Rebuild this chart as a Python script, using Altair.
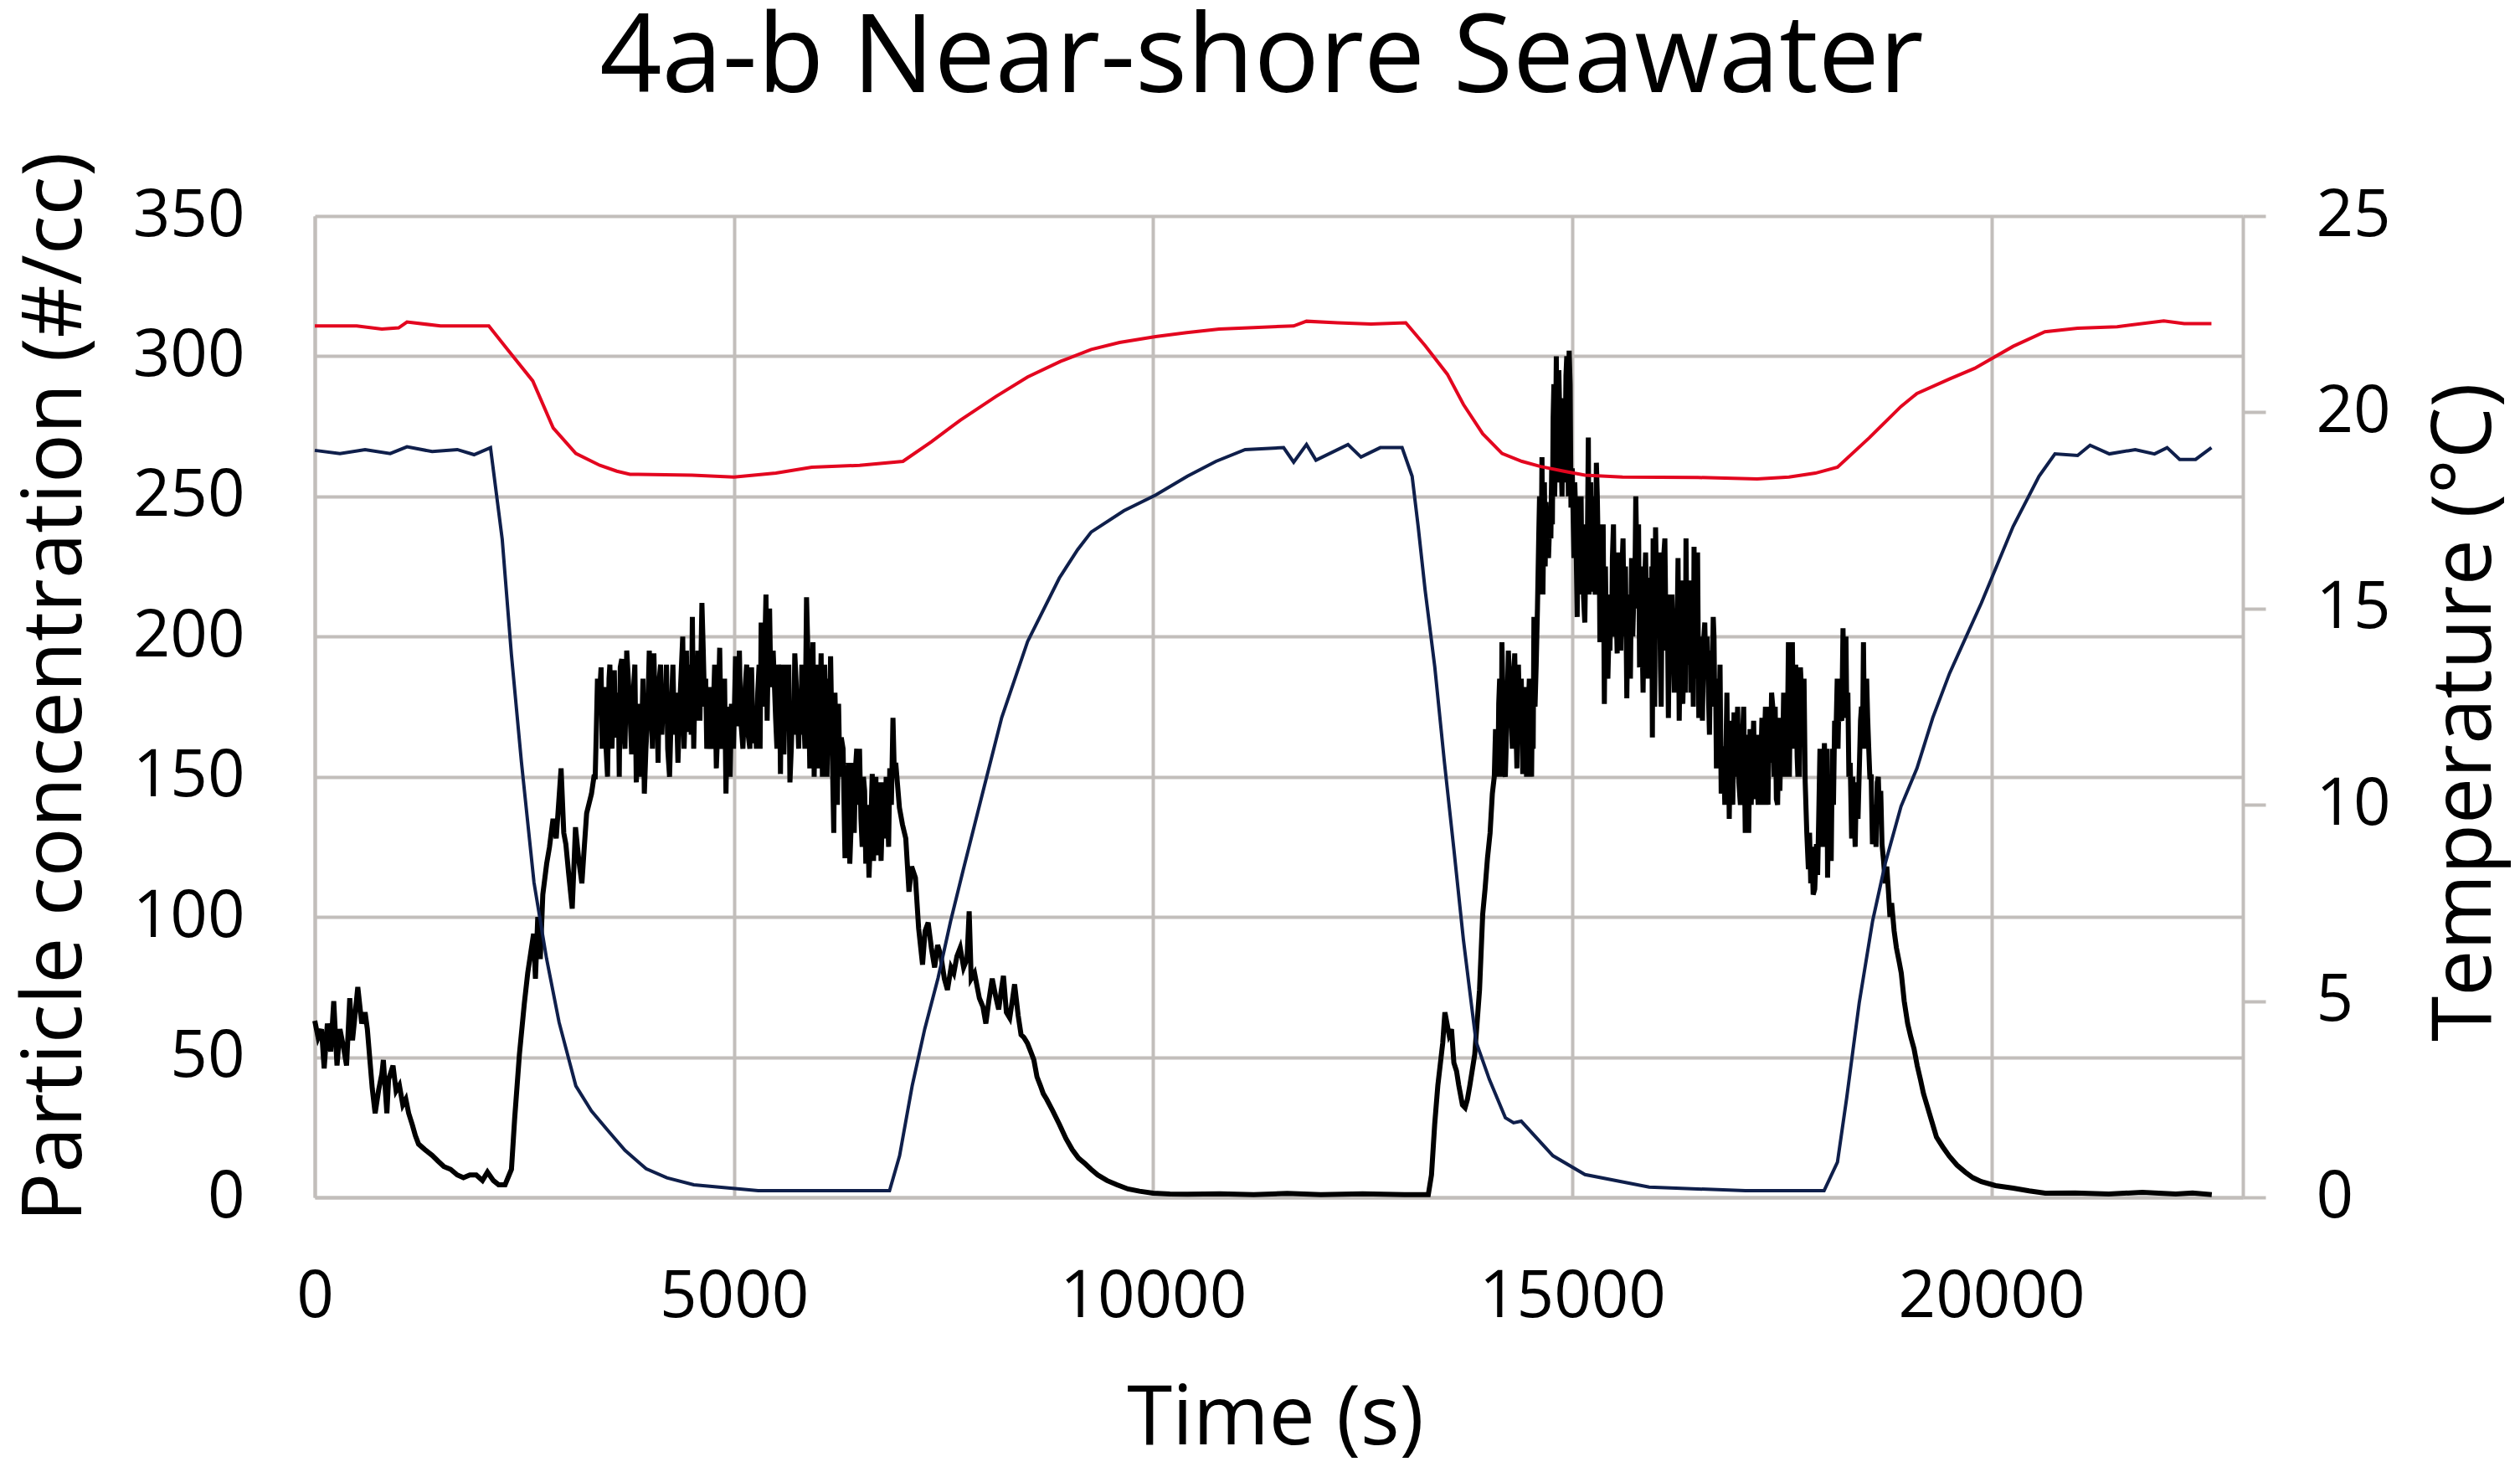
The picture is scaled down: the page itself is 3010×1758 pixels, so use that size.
import altair as alt
import pandas as pd

# ---------------- data ----------------
title_text = ["4a-b Near-shore Seawater"]

# Red temperature trace (time s, degC) - right axis
red_points = [
    (0, 22.2), (500, 22.2), (800, 22.12), (1000, 22.15), (1100, 22.3), (1500, 22.2),
    (2000, 22.2), (2076, 22.2), (2300, 21.6), (2600, 20.8), (2844, 19.6), (3114, 18.95),
    (3400, 18.65), (3603, 18.5), (3760, 18.42), (4500, 18.4), (5000, 18.35), (5500, 18.45),
    (5928, 18.6), (6500, 18.65), (7016, 18.75), (7355, 19.25), (7700, 19.8), (8124, 20.4),
    (8503, 20.9), (8900, 21.3), (9262, 21.6), (9600, 21.78), (10030, 21.93), (10400, 22.03),
    (10788, 22.12), (11200, 22.16), (11676, 22.2), (11830, 22.32), (12200, 22.28),
    (12600, 22.25), (13014, 22.28), (13245, 21.7), (13510, 20.97), (13702, 20.2),
    (13933, 19.45), (14163, 18.95), (14400, 18.75), (14622, 18.62), (14900, 18.5),
    (15152, 18.4), (15600, 18.35), (16500, 18.34), (17206, 18.3), (17585, 18.35),
    (17900, 18.45), (18164, 18.6), (18543, 19.35), (18922, 20.15), (19112, 20.48),
    (19500, 20.85), (19800, 21.12), (20259, 21.68), (20638, 22.05), (21028, 22.14),
    (21500, 22.18), (22056, 22.33), (22300, 22.26), (22625, 22.26),
]

# Navy temperature trace (time s, degC) - right axis
blue_points = [
    (0, 19.03), (300, 18.95), (600, 19.05), (900, 18.95), (1100, 19.12), (1400, 19.0),
    (1700, 19.05), (1900, 18.92), (2096, 19.1), (2236, 16.76), (2345, 13.84), (2465, 11.09),
    (2615, 8.02), (2765, 6.08), (2914, 4.46), (3114, 2.84), (3300, 2.2), (3493, 1.71),
    (3700, 1.2), (3952, 0.73), (4200, 0.5), (4521, 0.32), (5289, 0.17), (6000, 0.17),
    (6856, 0.17), (6976, 1.06), (7126, 2.84), (7276, 4.29), (7435, 5.59), (7585, 7.04),
    (7735, 8.34), (7964, 10.28), (8194, 12.22), (8503, 14.16), (8882, 15.78), (9100, 16.5),
    (9262, 16.95), (9651, 17.49), (10030, 17.89), (10409, 18.37), (10750, 18.75),
    (11098, 19.05), (11557, 19.1), (11677, 18.73), (11830, 19.18), (11943, 18.78),
    (12325, 19.18), (12480, 18.86), (12710, 19.1), (12970, 19.1), (13090, 18.37),
    (13162, 17.09), (13245, 15.47), (13360, 13.52), (13475, 11.09), (13590, 8.83),
    (13702, 6.56), (13852, 3.97), (14012, 3.0), (14202, 2.03), (14300, 1.9), (14392, 1.94),
    (14770, 1.06), (15152, 0.58), (15918, 0.26), (17066, 0.17), (18004, 0.17), (18164, 0.9),
    (18273, 2.52), (18423, 4.95), (18583, 7.04), (18733, 8.5), (18922, 9.96), (19112, 10.93),
    (19301, 12.22), (19501, 13.35), (19880, 15.14), (20259, 17.09), (20568, 18.37),
    (20758, 18.94), (21028, 18.9), (21177, 19.16), (21407, 18.94), (21716, 19.05),
    (21946, 18.94), (22096, 19.1), (22246, 18.8), (22436, 18.8), (22625, 19.1),
]

# Black particle concentration trace (time s, #/cc) - left axis: main readings
black_points = [
    (0, 63), (40, 57), (80, 60), (112, 46), (150, 62), (190, 52), (226, 70), (265, 47),
    (300, 60), (340, 54), (379, 47), (417, 71), (450, 56), (480, 65), (513, 75), (560, 62),
    (600, 66), (627, 60), (685, 39), (720, 30), (760, 38), (800, 44), (818, 49), (860, 30),
    (880, 42), (933, 47), (970, 38), (1009, 40), (1050, 33), (1086, 35), (1120, 30),
    (1162, 26), (1200, 22), (1238, 19), (1315, 17), (1400, 15), (1468, 13), (1540, 11),
    (1620, 10), (1700, 8), (1773, 7), (1850, 8), (1926, 8), (2000, 6), (2060, 9), (2130, 6),
    (2193, 4.5), (2270, 4.5), (2346, 10), (2384, 28), (2441, 51), (2499, 69), (2540, 80),
    (2575, 87), (2610, 94), (2632, 78), (2660, 100), (2690, 85), (2720, 108), (2766, 119),
    (2800, 125), (2842, 135), (2880, 128), (2938, 153), (2970, 130), (2995, 126),
    (3030, 115), (3071, 103), (3110, 132), (3150, 120), (3186, 112), (3215, 125),
    (3243, 137), (3301, 144), (3330, 150), (3358, 166), (3390, 175), (3415, 189),
    (3440, 170), (3475, 160), (3510, 185), (3530, 172), (3560, 175), (3587, 164),
    (3620, 180), (3644, 189), (3680, 170), (3721, 195), (3760, 173), (3800, 180),
    (3835, 148), (3870, 176), (3900, 165), (3931, 144), (3970, 171), (4010, 180),
    (4045, 194), (4080, 180), (4110, 185), (4140, 165), (4179, 171), (4210, 160),
    (4255, 176), (4290, 165), (4332, 155), (4389, 200), (4420, 175), (4446, 166),
    (4475, 190), (4504, 207), (4535, 182), (4570, 195), (4618, 212), (4650, 175),
    (4676, 160), (4710, 182), (4750, 170), (4790, 153), (4830, 196), (4870, 170),
    (4905, 144), (4940, 165), (4970, 176), (5019, 193), (5050, 180), (5080, 171),
    (5134, 182), (5170, 165), (5210, 189), (5250, 175), (5268, 160), (5300, 190),
    (5325, 205), (5382, 215), (5410, 195), (5440, 182), (5497, 171), (5530, 190),
    (5555, 151), (5580, 165), (5611, 180), (5640, 170), (5668, 148), (5700, 175),
    (5726, 194), (5760, 170), (5783, 178), (5810, 190), (5828, 176), (5866, 214),
    (5905, 153), (5943, 198), (5970, 175), (6000, 153), (6040, 194), (6070, 180),
    (6095, 167), (6125, 185), (6153, 193), (6191, 130), (6220, 160), (6248, 176),
    (6280, 164), (6325, 121), (6350, 140), (6382, 119), (6420, 155), (6450, 153),
    (6480, 140), (6515, 135), (6545, 150), (6573, 119), (6611, 114), (6650, 151),
    (6680, 140), (6706, 122), (6740, 148), (6770, 135), (6802, 128), (6830, 140),
    (6859, 153), (6897, 171), (6930, 155), (6974, 139), (7010, 133), (7050, 128),
    (7088, 109), (7120, 118), (7165, 114), (7203, 96), (7250, 83), (7280, 95), (7317, 98),
    (7355, 89), (7394, 82), (7430, 90), (7470, 86), (7510, 78), (7547, 74), (7590, 82),
    (7623, 80), (7660, 86), (7699, 89), (7740, 82), (7780, 85), (7806, 102), (7830, 78),
    (7870, 80), (7928, 71), (7970, 68), (8005, 62), (8040, 70), (8081, 78), (8120, 72),
    (8158, 67), (8190, 74), (8215, 79), (8250, 66), (8290, 64), (8320, 70), (8348, 76),
    (8390, 65), (8425, 58), (8460, 57), (8501, 55), (8540, 52), (8578, 49), (8615, 43),
    (8654, 40), (8690, 37), (8730, 35), (8800, 31), (8883, 26), (8960, 21), (9036, 17),
    (9110, 14), (9189, 12), (9260, 10), (9341, 8), (9450, 6), (9570, 4.5), (9700, 3),
    (9838, 2.2), (10000, 1.5), (10200, 1.2), (10411, 1.1), (10800, 1.3), (11200, 1.0),
    (11600, 1.4), (12000, 1.0), (12500, 1.3), (13000, 1.0), (13283, 1.0), (13321, 8),
    (13359, 26), (13397, 40), (13455, 55), (13481, 66), (13531, 58), (13560, 60),
    (13588, 48), (13620, 45), (13646, 40), (13690, 33), (13722, 32), (13750, 35),
    (13779, 40), (13837, 51), (13894, 74), (13932, 101), (13960, 110), (13989, 121),
    (14020, 130), (14047, 144), (14070, 150), (14085, 167), (14105, 160), (14123, 176),
    (14145, 165), (14161, 198), (14185, 153), (14220, 170), (14257, 182), (14285, 160),
    (14314, 194), (14340, 153), (14375, 165), (14410, 151), (14440, 182), (14470, 168),
    (14505, 160), (14525, 180), (14543, 207), (14570, 190), (14600, 235), (14620, 215),
    (14639, 264), (14660, 240), (14677, 225), (14700, 235), (14734, 244), (14755, 260),
    (14772, 278), (14790, 250), (14810, 300), (14830, 275), (14849, 282), (14870, 260),
    (14887, 271), (14905, 285), (14925, 293), (14945, 270), (14963, 302), (14985, 246),
    (15020, 228), (15040, 245), (15059, 207), (15080, 230), (15097, 239), (15115, 220),
    (15135, 214), (15165, 235), (15192, 271), (15210, 240), (15230, 216), (15260, 230),
    (15288, 262), (15310, 230), (15330, 198), (15355, 210), (15383, 176), (15410, 190),
    (15441, 205), (15460, 215), (15479, 228), (15505, 200), (15536, 194), (15565, 210),
    (15593, 225), (15620, 200), (15651, 178), (15680, 200), (15708, 228), (15735, 215),
    (15758, 250), (15780, 210), (15803, 189), (15830, 205), (15861, 216), (15890, 200),
    (15918, 221), (15940, 190), (15956, 164), (15975, 200), (15994, 239), (16020, 205),
    (16052, 189), (16070, 210), (16090, 228), (16120, 195), (16147, 171), (16175, 190),
    (16204, 198), (16230, 210), (16262, 228), (16290, 200), (16319, 176), (16340, 210),
    (16357, 235), (16385, 200), (16414, 180), (16435, 205), (16453, 232), (16480, 200),
    (16510, 171), (16540, 185), (16567, 198), (16595, 185), (16624, 180), (16650, 195),
    (16682, 207), (16700, 175), (16720, 153), (16750, 165), (16777, 144), (16805, 160),
    (16834, 160), (16855, 150), (16873, 135), (16900, 155), (16930, 173), (16960, 160),
    (16987, 148), (17025, 160), (17064, 130), (17090, 150), (17121, 167), (17150, 155),
    (17178, 142), (17206, 148), (17230, 165), (17263, 171), (17290, 160), (17321, 153),
    (17350, 175), (17378, 180), (17407, 150), (17435, 142), (17465, 171), (17490, 165),
    (17522, 180), (17550, 180), (17579, 198), (17600, 175), (17626, 198), (17650, 175),
    (17683, 157), (17700, 175), (17722, 189), (17750, 165), (17779, 148), (17817, 117),
    (17845, 112), (17874, 108), (17913, 126), (17940, 135), (17970, 139), (18008, 162),
    (18030, 140), (18046, 114), (18075, 135), (18103, 160), (18130, 170), (18161, 185),
    (18180, 175), (18199, 171), (18230, 203), (18255, 185), (18275, 171), (18300, 150),
    (18333, 128), (18360, 140), (18390, 148), (18428, 157), (18450, 175), (18474, 198),
    (18500, 180), (18524, 171), (18550, 150), (18581, 126), (18610, 140), (18638, 148),
    (18665, 135), (18695, 126), (18734, 112), (18770, 110), (18810, 105), (18840, 95),
    (18867, 89), (18900, 84), (18925, 80), (18960, 70), (19001, 62), (19040, 57),
    (19077, 53), (19115, 47), (19154, 42), (19190, 37), (19230, 33), (19290, 27),
    (19345, 21.5), (19420, 18), (19497, 14.7), (19590, 11.5), (19688, 9), (19780, 7),
    (19879, 5.6), (20050, 4.2), (20261, 3.3), (20450, 2.3), (20643, 1.5), (21000, 1.6),
    (21400, 1.2), (21800, 1.8), (22200, 1.2), (22400, 1.6), (22629, 1.0),
]

# Black trace: extra readings inside the dense noisy bands
black_fill = [
    (3345, 150), (3372, 185), (3428, 160), (3458, 182), (3492, 150), (3520, 190),
    (3545, 160), (3573, 188), (3603, 170), (3632, 150), (3662, 192), (3700, 160),
    (3740, 185), (3780, 158), (3818, 190), (3852, 165), (3885, 150), (3915, 185),
    (3950, 160), (3990, 195), (4028, 160), (4062, 172), (4095, 155), (4125, 190),
    (4160, 180), (4195, 190), (4232, 150), (4272, 190), (4310, 180), (4360, 180),
    (4405, 160), (4433, 195), (4460, 185), (4490, 165), (4520, 160), (4552, 170),
    (4594, 170), (4634, 195), (4663, 185), (4693, 165), (4730, 160), (4770, 190),
    (4810, 170), (4850, 160), (4888, 185), (4922, 175), (4955, 150), (4995, 160),
    (5035, 168), (5065, 195), (5107, 160), (5152, 190), (5190, 160), (5230, 162),
    (5284, 180), (5312, 160), (5353, 175), (5396, 170), (5425, 210), (5468, 195),
    (5513, 160), (5543, 185), (5568, 190), (5596, 158), (5625, 190), (5654, 190),
    (5684, 160), (5713, 165), (5743, 183), (5772, 160), (5797, 165), (5847, 160),
    (5886, 190), (5924, 165), (5957, 150), (5985, 190), (6020, 165), (6055, 150),
    (6082, 190), (6110, 150), (6139, 165), (6172, 160), (6205, 180), (6234, 140),
    (6264, 150), (6302, 160), (6338, 150), (6366, 155), (6401, 135), (6435, 130),
    (6465, 160), (6498, 160), (6530, 125), (6559, 145), (6592, 140), (6630, 130),
    (6665, 120), (6693, 150), (6723, 135), (6755, 120), (6786, 148), (6816, 150),
    (6845, 125), (6878, 140), (6914, 150),
    (14095, 150), (14114, 150), (14134, 185), (14153, 150), (14173, 180), (14202, 150),
    (14238, 195), (14271, 175), (14300, 185), (14327, 170), (14358, 190), (14392, 185),
    (14425, 160), (14455, 150), (14488, 185), (14515, 150), (14534, 160), (14556, 175),
    (14585, 210), (14610, 250), (14630, 230), (14650, 215), (14668, 255), (14688, 248),
    (14717, 228), (14745, 235), (14763, 240), (14781, 290), (14800, 265), (14820, 255),
    (14840, 295), (14860, 285), (14878, 250), (14896, 255), (14915, 265), (14935, 300),
    (14954, 250), (14975, 290), (15000, 260), (15030, 255), (15050, 225), (15070, 250),
    (15088, 215), (15106, 250), (15125, 240), (15150, 205), (15178, 225), (15201, 215),
    (15220, 255), (15245, 250), (15274, 215), (15299, 250), (15320, 240), (15342, 230),
    (15369, 240), (15396, 225), (15425, 185), (15450, 195), (15470, 200), (15492, 240),
    (15520, 215), (15550, 230), (15579, 195), (15606, 235), (15635, 225), (15665, 215),
    (15694, 185), (15722, 200), (15746, 215), (15769, 230), (15791, 240), (15816, 225),
    (15845, 180), (15875, 230), (15904, 185), (15929, 205), (15948, 225), (15965, 235),
    (15984, 175), (16007, 215), (16036, 230), (16061, 175), (16080, 195), (16105, 235),
    (16133, 215), (16160, 210), (16190, 215), (16217, 180), (16246, 190), (16276, 170),
    (16304, 220), (16330, 190), (16348, 180), (16370, 190), (16400, 220), (16424, 190),
    (16444, 175), (16466, 185), (16495, 230), (16525, 200), (16553, 170), (16581, 205),
    (16610, 200), (16637, 165), (16666, 175), (16691, 200), (16710, 185), (16735, 175),
    (16763, 190), (16791, 160), (16820, 140), (16845, 180), (16864, 160), (16887, 170),
    (16915, 140), (16945, 150), (16973, 175), (17006, 140), (17045, 175), (17077, 165),
    (17105, 130), (17135, 140), (17164, 170), (17192, 165), (17218, 140), (17246, 150),
    (17277, 140), (17305, 175), (17335, 140), (17364, 155), (17392, 175), (17421, 175),
    (17450, 140), (17477, 145), (17506, 150), (17536, 150), (17565, 160), (17590, 150),
    (17613, 170), (17638, 160), (17666, 190), (17692, 150), (17711, 150), (17736, 180),
    (17765, 185), (17798, 130), (17831, 130), (17860, 125), (17893, 110), (17927, 115),
    (17955, 160), (17989, 125), (18019, 150), (18038, 160), (18060, 145), (18089, 120),
    (18116, 140), (18146, 165), (18170, 160), (18190, 185), (18215, 170), (18243, 175),
    (18265, 200), (18288, 180), (18316, 155), (18346, 150), (18375, 125), (18409, 135),
    (18439, 170), (18462, 160), (18487, 160), (18512, 185), (18537, 160), (18566, 150),
    (18595, 130), (18624, 125), (18651, 150), (18680, 145), (18714, 120), (18752, 118),
    (18790, 100),
]

x_ticks = [0, 5000, 10000, 15000, 20000]
left_ticks = [0, 50, 100, 150, 200, 250, 300, 350]
right_ticks = [0, 5, 10, 15, 20, 25]

# ---------------- build tables ----------------
df_black = pd.DataFrame(black_points + black_fill, columns=["t", "v"]).sort_values("t")
df_red = pd.DataFrame(red_points, columns=["t", "v"]).assign(series="outer")
df_blue = pd.DataFrame(blue_points, columns=["t", "v"]).assign(series="inner")
df_temp = pd.concat([df_blue, df_red], ignore_index=True)
df_title = pd.DataFrame({"label": title_text})

GRID = "#c2bebb"
RED = "#e3061f"
NAVY = "#0f1f4b"
FONT = "Open Sans"
W, H = 2303, 1172

x_scale = alt.Scale(domain=[0, 23000], nice=False, zero=False)
x_axis = alt.Axis(
    values=x_ticks, format="d", title="Time (s)",
    grid=True, gridColor=GRID, gridWidth=4,
    domainColor=GRID, domainWidth=4,
    ticks=False, tickSize=0, labelPadding=80, labelFlush=False, labelLimit=1000,
    labelFontSize=78, titleFontSize=98,
    titleX=1147, titleY=294, titleBaseline="alphabetic", titleAlign="center",
)
left_axis = alt.Axis(
    orient="left", values=left_ticks, title="Particle concentration (#/cc)",
    grid=True, gridColor=GRID, gridWidth=4,
    domainColor=GRID, domainWidth=4,
    ticks=False, tickSize=0, labelPadding=84, labelLimit=1000,
    labelFontSize=78, titleFontSize=98, titleLimit=3000,
    titleAngle=270, titleX=-280, titleY=562,
    titleBaseline="alphabetic", titleAlign="center",
)
right_axis = alt.Axis(
    orient="right", values=right_ticks, title="Temperature (°C)",
    grid=False, domainColor=GRID, domainWidth=4,
    ticks=True, tickSize=27, tickColor=GRID, tickWidth=4, labelPadding=60,
    labelFontSize=78, titleFontSize=98, titleLimit=3000,
    titleAngle=270, titleX=295, titleY=592,
    titleBaseline="alphabetic", titleAlign="center",
)

black = alt.Chart(df_black).mark_line(color="black", strokeWidth=6).encode(
    x=alt.X("t:Q", scale=x_scale, axis=x_axis),
    y=alt.Y("v:Q", scale=alt.Scale(domain=[0, 350], nice=False), axis=left_axis),
)

temp = alt.Chart(df_temp).mark_line(strokeWidth=4).encode(
    x=alt.X("t:Q", scale=x_scale, axis=x_axis),
    y=alt.Y("v:Q", scale=alt.Scale(domain=[0, 25], nice=False), axis=right_axis),
    color=alt.Color("series:N", scale=alt.Scale(domain=["inner", "outer"], range=[NAVY, RED]), legend=None),
)

# chart title, placed above the plot area
title_layer = alt.Chart(df_title).mark_text(
    font=FONT, fontSize=130, align="center", baseline="alphabetic", color="black"
).encode(text="label:N", x=alt.value(1131), y=alt.value(-148))

chart = (
    alt.layer(black, temp, title_layer)
    .resolve_scale(y="independent")
    .properties(
        width=W,
        height=H,
        autosize=alt.AutoSizeParams(type="none"),
        padding={"left": 368, "top": 250, "right": 323, "bottom": 320},
    )
    .configure_axis(labelFont=FONT, titleFont=FONT, labelColor="black",
                    titleColor="black", titleFontWeight="normal")
    .configure_view(strokeWidth=0)
)

chart.save("out.html", embed_options={"renderer": "svg", "actions": False})
